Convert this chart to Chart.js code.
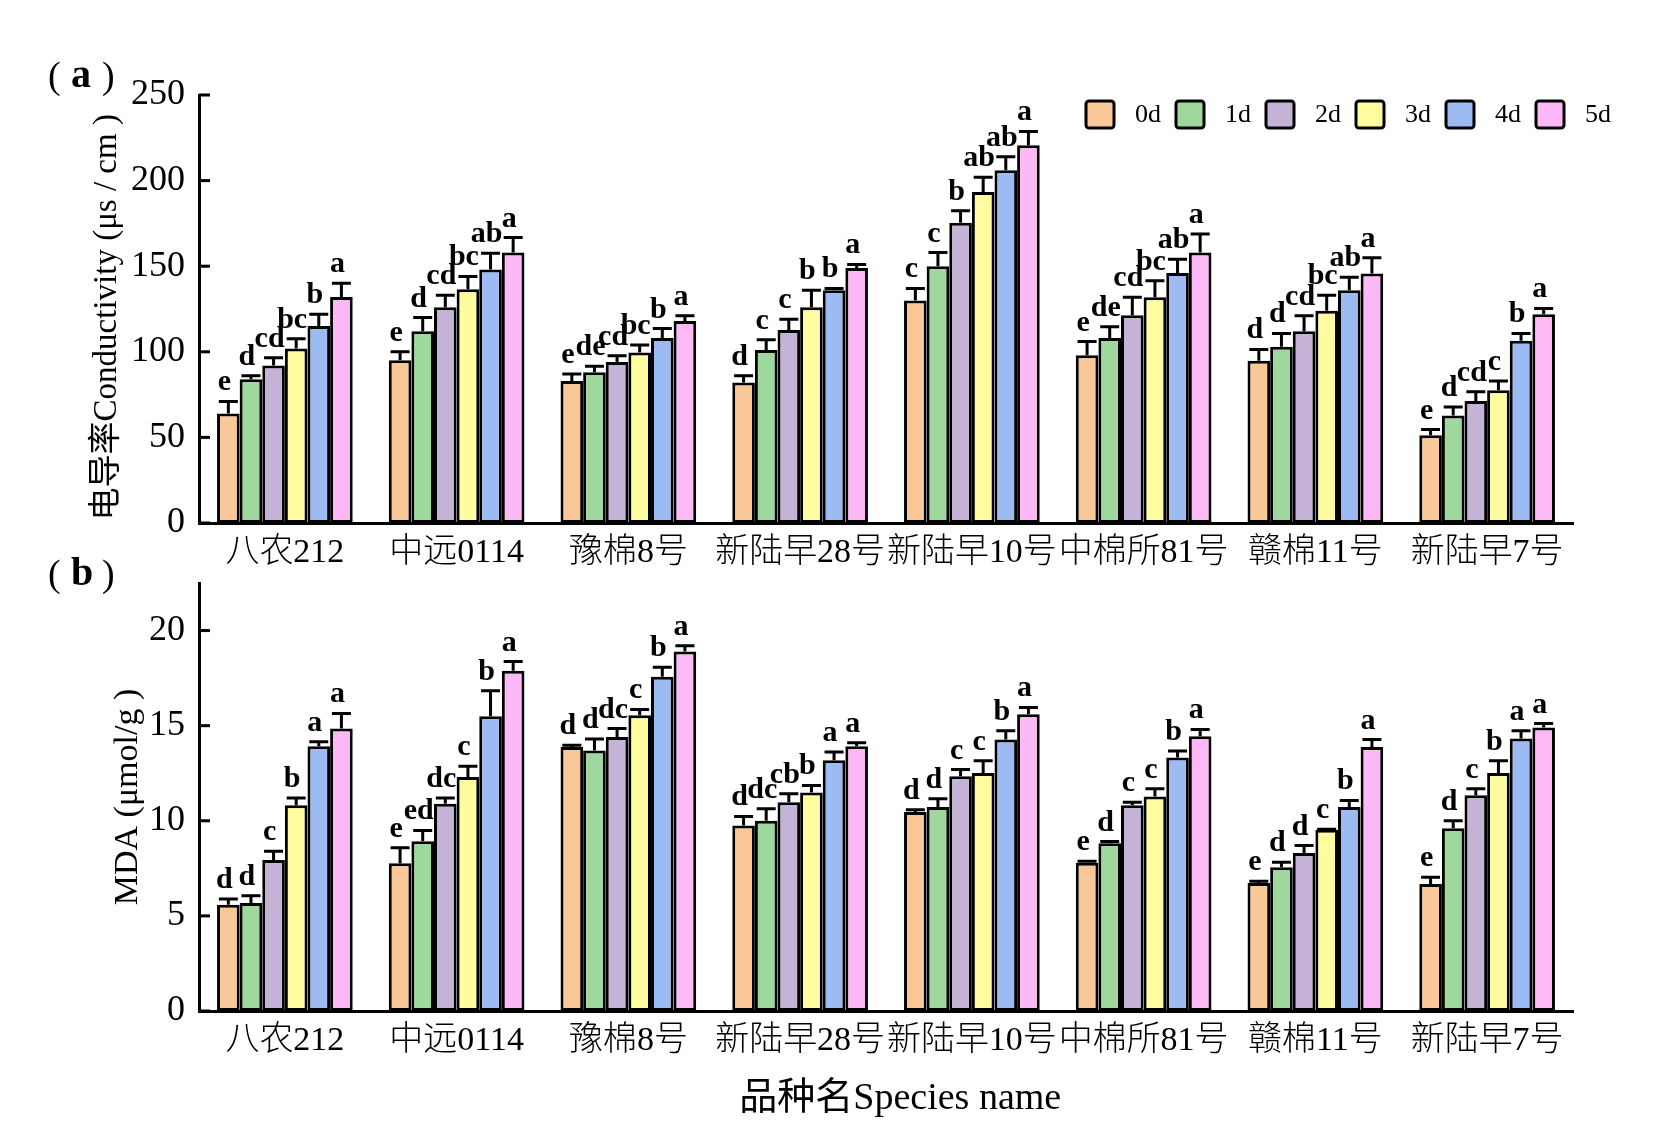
<!DOCTYPE html>
<html>
<head>
<meta charset="utf-8">
<script src="https://cdn.jsdelivr.net/npm/chart.js@4.4.1/dist/chart.umd.min.js"></script>
<style>
  body { margin: 0; background: #fff; }
  #wrap { position: relative; width: 1654px; height: 1144px; }
  canvas { position: absolute; left: 0; }
  #chartA { top: 0; }
  #chartB { top: 540px; }
</style>
</head>
<body>
<div id="wrap">
  <canvas id="chartA" width="1654" height="575"></canvas>
  <canvas id="chartB" width="1654" height="604"></canvas>
</div>
<script>
// categories and series
const varieties = ['八农212', '中远0114', '豫棉8号', '新陆早28号', '新陆早10号', '中棉所81号', '赣棉11号', '新陆早7号'];
const days = ['0d', '1d', '2d', '3d', '4d', '5d'];
const dayColors = ['#FAC896', '#9FD89D', '#C4B2D7', '#FEFC9F', '#9DBBF3', '#FDB8F6'];

// (a) conductivity, mean per day
const cond0d = [64, 95, 83, 82, 130, 98, 94.7, 51.3];
const cond1d = [84, 112, 88, 101, 150, 108, 103, 62.8];
const cond2d = [92, 126, 94, 112.7, 175.4, 121.4, 112, 71.3];
const cond3d = [102, 136.5, 99.6, 126, 193.4, 131.8, 124, 77.6];
const cond4d = [115, 148, 108, 136, 206, 146, 136, 106.4];
const cond5d = [132, 158, 118, 149, 220.7, 158, 145.8, 122];
// (a) error bars
const condErr0d = [7, 5, 4, 4, 7, 8, 6.7, 3.3];
const condErr1d = [2, 8, 3.6, 6, 8, 6.6, 7.7, 5];
const condErr2d = [4.5, 7, 3.7, 6.3, 7, 10.4, 9, 5.3];
const condErr3d = [5.6, 7.5, 4.4, 10, 8.6, 9.7, 9, 5.4];
const condErr4d = [7, 9.5, 5.6, 1, 8, 8, 7.5, 4.3];
const condErr5d = [8, 8.7, 3, 2, 8, 10.8, 9.2, 3.3];
// (a) significance letters
const condSig0d = ['e', 'e', 'e', 'd', 'c', 'e', 'd', 'e'];
const condSig1d = ['d', 'd', 'de', 'c', 'c', 'de', 'd', 'd'];
const condSig2d = ['cd', 'cd', 'cd', 'c', 'b', 'cd', 'cd', 'cd'];
const condSig3d = ['bc', 'bc', 'bc', 'b', 'ab', 'bc', 'bc', 'c'];
const condSig4d = ['b', 'ab', 'b', 'b', 'ab', 'ab', 'ab', 'b'];
const condSig5d = ['a', 'a', 'a', 'a', 'a', 'a', 'a', 'a'];

// (b) MDA, mean per day
const mda0d = [5.59, 7.77, 13.88, 9.75, 10.46, 7.79, 6.73, 6.68];
const mda1d = [5.68, 8.93, 13.7, 10.0, 10.72, 8.82, 7.56, 9.61];
const mda2d = [7.94, 10.9, 14.4, 10.98, 12.34, 10.81, 8.31, 11.34];
const mda3d = [10.81, 12.3, 15.55, 11.48, 12.51, 11.28, 9.53, 12.51];
const mda4d = [13.92, 15.5, 17.57, 13.18, 14.27, 13.32, 10.72, 14.32];
const mda5d = [14.85, 17.89, 18.9, 13.92, 15.6, 14.45, 13.88, 14.9];
// (b) error bars
const mdaErr0d = [0.3, 0.81, 0.09, 0.48, 0.12, 0.08, 0.09, 0.35];
const mdaErr1d = [0.38, 0.56, 0.6, 0.63, 0.44, 0.09, 0.26, 0.39];
const mdaErr2d = [0.46, 0.3, 0.45, 0.44, 0.35, 0.17, 0.39, 0.35];
const mdaErr3d = [0.39, 0.56, 0.3, 0.38, 0.64, 0.41, 0.03, 0.64];
const mdaErr4d = [0.23, 1.34, 0.5, 0.44, 0.46, 0.35, 0.35, 0.41];
const mdaErr5d = [0.79, 0.48, 0.3, 0.18, 0.36, 0.35, 0.39, 0.21];
// (b) significance letters
const mdaSig0d = ['d', 'e', 'd', 'd', 'd', 'e', 'e', 'e'];
const mdaSig1d = ['d', 'ed', 'd', 'dc', 'd', 'd', 'd', 'd'];
const mdaSig2d = ['c', 'dc', 'dc', 'cb', 'c', 'c', 'd', 'c'];
const mdaSig3d = ['b', 'c', 'c', 'b', 'c', 'c', 'c', 'b'];
const mdaSig4d = ['a', 'b', 'b', 'a', 'b', 'b', 'b', 'a'];
const mdaSig5d = ['a', 'a', 'a', 'a', 'a', 'a', 'a', 'a'];

const condTicks = [0, 50, 100, 150, 200, 250];
const mdaTicks = [0, 5, 10, 15, 20];

const serif = '"Liberation Serif", "Noto Sans CJK SC"';

function makeDatasets(means, errs, sigs) {
  return days.map((d, i) => ({
    label: d,
    data: means[i],
    errors: errs[i],
    letters: sigs[i],
    backgroundColor: dayColors[i],
    borderColor: '#000',
    borderWidth: 3,
    borderSkipped: false,
    barPercentage: 1,
    categoryPercentage: 0.79
  }));
}

// inward tick marks on the y axis
const innerTicks = {
  id: 'innerTicks',
  afterDraw(chart) {
    const ys = chart.scales.y, ctx = chart.ctx, left = chart.chartArea.left;
    ctx.save();
    ctx.strokeStyle = '#000';
    ctx.lineWidth = 3;
    ys.ticks.forEach(t => {
      const py = ys.getPixelForValue(t.value);
      ctx.beginPath();
      ctx.moveTo(left, py);
      ctx.lineTo(left + 11, py);
      ctx.stroke();
    });
    ctx.restore();
  }
};

// upper error whiskers and letters
const errLetters = {
  id: 'errLetters',
  afterDatasetsDraw(chart) {
    const ctx = chart.ctx, ys = chart.scales.y;
    ctx.save();
    chart.data.datasets.forEach((ds, i) => {
      const meta = chart.getDatasetMeta(i);
      meta.data.forEach((bar, j) => {
        const top = ys.getPixelForValue(ds.data[j] + ds.errors[j]);
        const half = bar.width * 0.42;
        ctx.strokeStyle = '#000';
        ctx.lineWidth = 3;
        ctx.beginPath();
        ctx.moveTo(bar.x, bar.y);
        ctx.lineTo(bar.x, top);
        ctx.moveTo(bar.x - half, top);
        ctx.lineTo(bar.x + half, top);
        ctx.stroke();
        ctx.fillStyle = '#000';
        ctx.font = 'bold 30px ' + serif;
        ctx.textAlign = 'center';
        ctx.textBaseline = 'alphabetic';
        ctx.fillText(ds.letters[j], bar.x - 4, top - 11);
      });
    });
    ctx.restore();
  }
};

// legend drawn inside the plot, top right
const boxLegend = {
  id: 'boxLegend',
  afterDraw(chart) {
    const ctx = chart.ctx;
    ctx.save();
    chart.data.datasets.forEach((ds, i) => {
      const x = 1086 + i * 90, y = 101;
      ctx.beginPath();
      ctx.roundRect(x, y, 28, 27, 3);
      ctx.fillStyle = ds.backgroundColor;
      ctx.fill();
      ctx.lineWidth = 3;
      ctx.strokeStyle = '#000';
      ctx.stroke();
      ctx.fillStyle = '#000';
      ctx.font = '26px ' + serif;
      ctx.textAlign = 'left';
      ctx.textBaseline = 'middle';
      ctx.fillText(ds.label, x + 49, y + 14);
    });
    ctx.restore();
  }
};

// panel tag such as (a): thin parentheses, bold letter
function panelTag(letter, baseY) {
  return {
    id: 'panelTag',
    afterDraw(chart) {
      const ctx = chart.ctx;
      ctx.save();
      ctx.fillStyle = '#000';
      ctx.textAlign = 'left';
      ctx.textBaseline = 'alphabetic';
      ctx.font = '38px "Liberation Serif"';
      ctx.fillText('(', 48, baseY + 1);
      ctx.fillText(')', 102, baseY + 1);
      ctx.font = 'bold 40px "Liberation Serif"';
      ctx.fillText(letter, 71, baseY);
      ctx.restore();
    }
  };
}

function makeChart(canvasId, means, errs, sigs, yOpts) {
  return new Chart(document.getElementById(canvasId).getContext('2d'), {
    type: 'bar',
    data: { labels: varieties, datasets: makeDatasets(means, errs, sigs) },
    options: {
      responsive: false,
      animation: false,
      layout: { padding: { top: yOpts.padTop, right: 81, bottom: 0, left: 0 } },
      plugins: { legend: { display: false }, tooltip: { enabled: false } },
      scales: {
        x: {
          grid: { display: false, drawTicks: false },
          border: { display: true, color: '#000', width: 3 },
          ticks: {
            color: '#000', autoSkip: false, maxRotation: 0, padding: 10,
            font: { family: serif, size: 34, weight: 300 }
          },
          title: yOpts.xTitle ? {
            display: true, text: yOpts.xTitle, color: '#000',
            font: { family: serif, size: 38 }, padding: { top: 0, bottom: 22 }
          } : { display: false },
          afterFit(scale) { scale.height = yOpts.xHeight; }
        },
        y: {
          min: 0,
          max: yOpts.max,
          grid: { display: false, drawTicks: false },
          border: { display: true, color: '#000', width: 3 },
          afterBuildTicks(scale) { scale.ticks = yOpts.ticks.map(v => ({ value: v })); },
          ticks: {
            color: '#000', padding: 14,
            font: { family: serif, size: 36 }
          },
          title: {
            display: true, text: yOpts.title, color: '#000',
            font: { family: serif, size: yOpts.titleSize }, padding: { top: yOpts.titlePad, bottom: 0 }
          },
          afterFit(scale) { scale.width = 199; }
        }
      }
    },
    plugins: [innerTicks, errLetters].concat(yOpts.extra)
  });
}

makeChart('chartA',
  [cond0d, cond1d, cond2d, cond3d, cond4d, cond5d],
  [condErr0d, condErr1d, condErr2d, condErr3d, condErr4d, condErr5d],
  [condSig0d, condSig1d, condSig2d, condSig3d, condSig4d, condSig5d],
  { max: 250, ticks: condTicks, title: '电导率Conductivity (μs / cm )  ', titleSize: 33, titlePad: 88,
    padTop: 95, xHeight: 52, xTitle: null, extra: [boxLegend, panelTag('a', 87)] });

makeChart('chartB',
  [mda0d, mda1d, mda2d, mda3d, mda4d, mda5d],
  [mdaErr0d, mdaErr1d, mdaErr2d, mdaErr3d, mdaErr4d, mdaErr5d],
  [mdaSig0d, mdaSig1d, mdaSig2d, mdaSig3d, mdaSig4d, mdaSig5d],
  { max: 22.5, ticks: mdaTicks, title: 'MDA (μmol/g )', titleSize: 34, titlePad: 108,
    padTop: 43, xHeight: 133, xTitle: '   品种名Species name', extra: [panelTag('b', 45)] });
</script>
</body>
</html>
